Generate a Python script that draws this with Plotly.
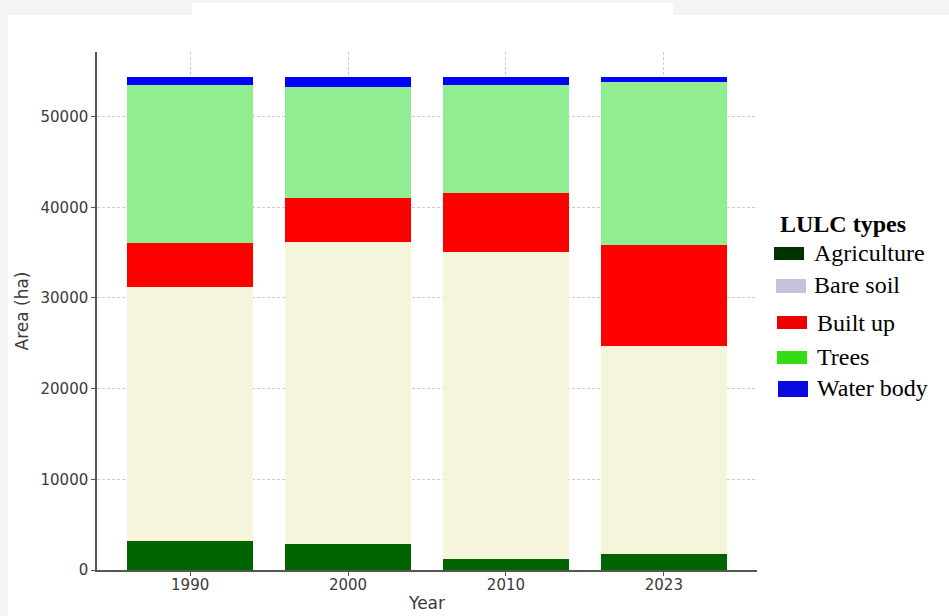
import plotly.graph_objects as go

years = ["1990", "2000", "2010", "2023"]
agriculture = [3190, 2830, 1250, 1730]
bare_soil = [28010, 33400, 33810, 22940]
built_up = [4890, 4850, 6570, 11200]
trees = [17440, 12150, 11870, 17910]
water_body = [880, 1180, 910, 630]

series_names = ["Agriculture", "Bare soil", "Built up", "Trees", "Water body"]
series_values = [agriculture, bare_soil, built_up, trees, water_body]
bar_colors = ["#006400", "#f5f5dc", "#ff0000", "#90ee90", "#0000ff"]
legend_colors = ["#003300", "#c8c1da", "#ee0000", "#33dd11", "#0a0ae0"]

W, H = 949, 616
L, R, T, B = 97, 192, 52, 46
PW, PH = W - L - R, H - T - B

def px(x):
    return (x - L) / PW

def py(y):
    return (H - B - y) / PH

fig = go.Figure()
for name, vals, col in zip(series_names, series_values, bar_colors):
    fig.add_trace(go.Bar(x=years, y=vals, name=name, marker_color=col,
                         marker_line_width=0, showlegend=False, hoverinfo="skip"))

totals = [sum(v) for v in zip(*series_values)]
ymax = max(totals) * 1.05

shapes = []
# background strips
shapes.append(dict(type="rect", xref="paper", yref="paper", x0=px(0), x1=px(8), y0=py(H), y1=py(0),
                   fillcolor="#f4f4f4", line_width=0, layer="below"))
shapes.append(dict(type="rect", xref="paper", yref="paper", x0=px(0), x1=px(W), y0=py(15), y1=py(0),
                   fillcolor="#f4f4f4", line_width=0, layer="below"))
shapes.append(dict(type="rect", xref="paper", yref="paper", x0=px(192), x1=px(673), y0=py(15), y1=py(3),
                   fillcolor="#ffffff", line_width=0, layer="below"))

# legend
lfont = dict(family="Liberation Serif", size=24, color="#000000")
annotations = [dict(text="<b>LULC types</b>", x=px(843), y=py(224), xref="paper", yref="paper",
                    showarrow=False, xanchor="center", yanchor="middle", font=lfont)]
sw = [(774, 247, 260, 812, 253), (776, 279, 293, 812, 285), (777, 316, 329, 815, 323),
      (777, 351, 364, 815, 357), (778, 381, 397, 815, 388)]
for (x0, y0, y1, tx, ty), name, col in zip(sw, series_names, legend_colors):
    shapes.append(dict(type="rect", xref="paper", yref="paper", x0=px(x0), x1=px(x0 + 30),
                       y0=py(y1), y1=py(y0), fillcolor=col, line_width=0))
    annotations.append(dict(text=name, x=px(tx), y=py(ty), xref="paper", yref="paper",
                            showarrow=False, xanchor="left", yanchor="middle", font=lfont))

tickfont = dict(family="DejaVu Sans", size=15, color="#3a3a3a")
titlefont = dict(family="DejaVu Sans", size=17, color="#3a3a3a")
grid = dict(showgrid=True, gridcolor="#cccccc", griddash="3px,2px", gridwidth=1)
fig.update_layout(
    width=W, height=H, margin=dict(l=L, r=R, t=T, b=B, autoexpand=False),
    paper_bgcolor="#ffffff", plot_bgcolor="#ffffff",
    barmode="stack", bargap=0.2, hovermode=False,
    shapes=shapes, annotations=annotations,
    xaxis=dict(type="category", range=[-0.59, 3.59], showline=True, linecolor="#555555", linewidth=1.5,
               ticks="outside", ticklen=4, tickcolor="#555555", tickfont=tickfont,
               ticklabelstandoff=-4, layer="above traces", zeroline=False,
               title=dict(text="Year", font=titlefont, standoff=4), **grid),
    yaxis=dict(range=[0, ymax], dtick=10000, tickformat="d", showline=True, linecolor="#555555",
               linewidth=1.5, ticks="outside", ticklen=4, tickcolor="#555555", tickfont=tickfont,
               layer="above traces", zeroline=False,
               title=dict(text="Area (ha)", font=titlefont, standoff=8), **grid),
)
fig.write_html("out.html", config={"displayModeBar": False},
               post_script="document.body.style.margin='0';document.body.style.background='#ffffff';")
